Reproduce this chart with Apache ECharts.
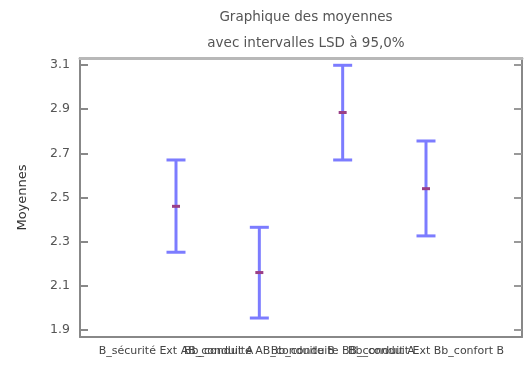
<!DOCTYPE html>
<html><head><meta charset="utf-8">
<script src="https://cdn.jsdelivr.net/npm/echarts@6/dist/echarts.min.js"></script>
<style>html,body{margin:0;padding:0;background:#fff}#c{width:527px;height:367px}</style>
</head><body><div id="c"></div>
<script>
const categories = ["B_sécurité Ext AB_conduit A", "Bb_conduite AB_conduite B", "Bb_conduite BB_conduit A", "Bb_conduit Ext Bb_confort B"];
const means = [2.46, 2.16, 2.885, 2.54];
const lower = [2.252, 1.954, 2.670, 2.326];
const upper = [2.670, 2.365, 3.099, 2.756];
const yTicks = [1.9, 2.1, 2.3, 2.5, 2.7, 2.9, 3.1];
const titleLines = ["Graphique des moyennes", "avec intervalles LSD à 95,0%"];
const yName = "Moyennes";

const xPositions = categories.map((_, i) => i + 1);
const data = categories.map((c, i) => [xPositions[i], means[i], lower[i], upper[i]]);
const font = "DejaVu Sans";
const yMin = 1.868, yMax = 3.132;

const chart = echarts.init(document.getElementById('c'), null, {renderer: 'canvas'});
chart.setOption({
  animation: false,
  backgroundColor: '#fff',
  title: [
    {text: titleLines[0], left: 301, top: 5, textAlign: 'center', textStyle: {fontFamily: font, fontSize: 13.5, fontWeight: 'normal', color: '#555'}},
    {text: titleLines[1], left: 301, top: 31, textAlign: 'center', textStyle: {fontFamily: font, fontSize: 13.5, fontWeight: 'normal', color: '#555'}}
  ],
  grid: {left: 80, right: 5, top: 58, bottom: 30, containLabel: false},
  xAxis: [{
    type: 'value', min: 1 - 1.152, max: 4 + 1.152, position: 'bottom',
    axisLine: {show: true, onZero: false, lineStyle: {color: '#888', width: 2}},
    axisTick: {show: false}, splitLine: {show: false}, axisLabel: {show: false}
  }, {
    type: 'value', min: 1 - 1.152, max: 4 + 1.152, position: 'top',
    axisLine: {show: true, onZero: false, lineStyle: {color: '#b8b8b8', width: 3}},
    axisTick: {show: false}, axisLabel: {show: false}, splitLine: {show: false}
  }],
  yAxis: [{
    type: 'value', min: yMin, max: yMax, position: 'left',
    name: yName, nameLocation: 'middle', nameGap: 51, nameRotate: 90,
    nameTextStyle: {fontFamily: font, fontSize: 13, color: '#333'},
    axisLine: {show: true, onZero: false, lineStyle: {color: '#888', width: 2}},
    axisTick: {show: true, inside: true, length: 8, customValues: yTicks, lineStyle: {color: '#888', width: 2}},
    axisLabel: {customValues: yTicks, formatter: v => v.toFixed(1), fontFamily: font, fontSize: 12.5, color: '#555', margin: 10},
    splitLine: {show: false}
  }, {
    type: 'value', min: yMin, max: yMax, position: 'right',
    axisLine: {show: true, onZero: false, lineStyle: {color: '#888', width: 2}},
    axisTick: {show: true, inside: true, length: 8, customValues: yTicks, lineStyle: {color: '#999', width: 2}},
    axisLabel: {show: false}, splitLine: {show: false}
  }],
  series: [{
    type: 'custom',
    xAxisIndex: 0, yAxisIndex: 0,
    data: data,
    encode: {x: 0, y: [1, 2, 3]},
    renderItem: function (params, api) {
      const x = api.value(0);
      const m = api.coord([x, api.value(1)]);
      const lo = api.coord([x, api.value(2)]);
      const hi = api.coord([x, api.value(3)]);
      const cap = 9.5;
      const blue = {stroke: '#7c7cff', lineWidth: 3};
      return {type: 'group', children: [
        {type: 'line', shape: {x1: hi[0], y1: hi[1], x2: lo[0], y2: lo[1]}, style: blue},
        {type: 'line', shape: {x1: hi[0] - cap, y1: hi[1], x2: hi[0] + cap, y2: hi[1]}, style: blue},
        {type: 'line', shape: {x1: lo[0] - cap, y1: lo[1], x2: lo[0] + cap, y2: lo[1]}, style: blue},
        {type: 'line', shape: {x1: m[0] - 4, y1: m[1], x2: m[0] + 4, y2: m[1]}, style: {stroke: '#9a3f86', lineWidth: 3}}
      ]};
    }
  }, {
    type: 'custom',
    xAxisIndex: 0, yAxisIndex: 0,
    clip: false, silent: true,
    data: categories.map((c, i) => [xPositions[i], yMin]),
    renderItem: function (params, api) {
      const p = api.coord([api.value(0), api.value(1)]);
      return {type: 'text', x: p[0], y: p[1] + 9,
        style: {text: categories[params.dataIndex], fontFamily: font, fontSize: 11, fill: '#444', align: 'center', verticalAlign: 'top'}};
    }
  }]
});
</script></body></html>
